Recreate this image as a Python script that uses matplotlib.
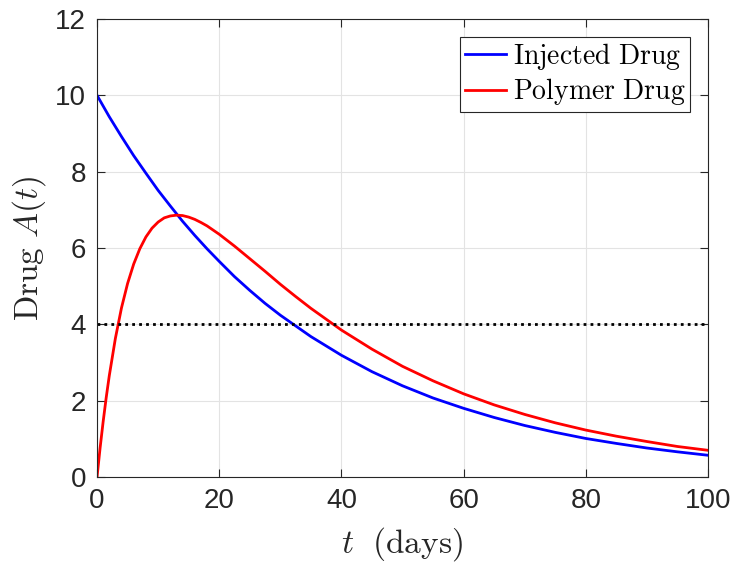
import matplotlib
matplotlib.use("Agg")
import matplotlib.pyplot as plt

plt.rcParams['mathtext.fontset'] = 'cm'
plt.rcParams['font.family'] = ['Liberation Sans', 'DejaVu Sans']

# Data
t_injected = [0, 2, 4, 6, 8, 10, 12, 14, 16, 18, 20, 22.5, 25, 27.5, 30, 35, 40, 45,
              50, 55, 60, 65, 70, 75, 80, 85, 90, 95, 100]
injected = [10.0, 9.44, 8.92, 8.42, 7.96, 7.51, 7.10, 6.70, 6.33, 5.98, 5.65, 5.25,
            4.89, 4.55, 4.24, 3.68, 3.19, 2.76, 2.39, 2.07, 1.80, 1.56, 1.35, 1.17,
            1.01, 0.88, 0.76, 0.66, 0.57]

t_polymer = [0, 0.5, 1, 1.5, 2, 3, 4, 5, 6, 7, 8, 9, 10, 11, 12, 13, 14, 15, 16, 17,
             18, 20, 22.5, 25, 27.5, 30, 32.5, 35, 40, 45, 50, 55, 60, 65, 70, 75, 80,
             85, 90, 95, 100]
polymer = [0.0, 0.76, 1.45, 2.08, 2.65, 3.63, 4.43, 5.07, 5.58, 5.98, 6.29, 6.52,
           6.68, 6.79, 6.84, 6.86, 6.85, 6.81, 6.75, 6.67, 6.58, 6.36, 6.05, 5.72,
           5.39, 5.05, 4.73, 4.42, 3.85, 3.35, 2.90, 2.52, 2.18, 1.89, 1.64, 1.42,
           1.23, 1.07, 0.93, 0.80, 0.70]

threshold = 4
x_ticks = [0, 20, 40, 60, 80, 100]
y_ticks = [0, 2, 4, 6, 8, 10, 12]

fig = plt.figure(figsize=(7.34, 5.62), dpi=100)
ax = fig.add_axes([0.1322, 0.1512, 0.8324, 0.8150])

axcol = '#262626'
ax.plot(t_injected, injected, color='#0000ff', lw=2, label=r'$\mathrm{Injected\ Drug}$')
ax.plot(t_polymer, polymer, color='#ff0000', lw=2, label=r'$\mathrm{Polymer\ Drug}$')
ax.axhline(threshold, color='black', lw=2, ls=(0, (1, 1.5)))

ax.set_xlim(0, 100)
ax.set_ylim(0, 12)
ax.set_xticks(x_ticks)
ax.set_yticks(y_ticks)
ax.grid(True, color='#e3e3e3', lw=0.8)
ax.set_axisbelow(True)
ax.tick_params(direction='in', length=6, width=0.8, colors=axcol, labelsize=20,
               top=True, right=True)
ax.tick_params(axis='x', pad=8)
ax.tick_params(axis='y', pad=8)
for s in ax.spines.values():
    s.set_color(axcol)
    s.set_linewidth(0.8)

ax.set_xlabel(r'$t\ \ \mathrm{(days)}$', fontsize=24, color=axcol, labelpad=8)
ax.set_ylabel(r'$\mathrm{Drug}\ A(t)$', fontsize=24, color=axcol, labelpad=5)

leg = ax.legend(loc='upper right', fontsize=20, fancybox=False, framealpha=1,
                edgecolor=axcol, handlelength=1.5, handletextpad=0.25,
                borderpad=0.15, labelspacing=0.15, borderaxespad=0.65)
leg.get_frame().set_linewidth(0.8)

fig.savefig('out.png', dpi=100)
